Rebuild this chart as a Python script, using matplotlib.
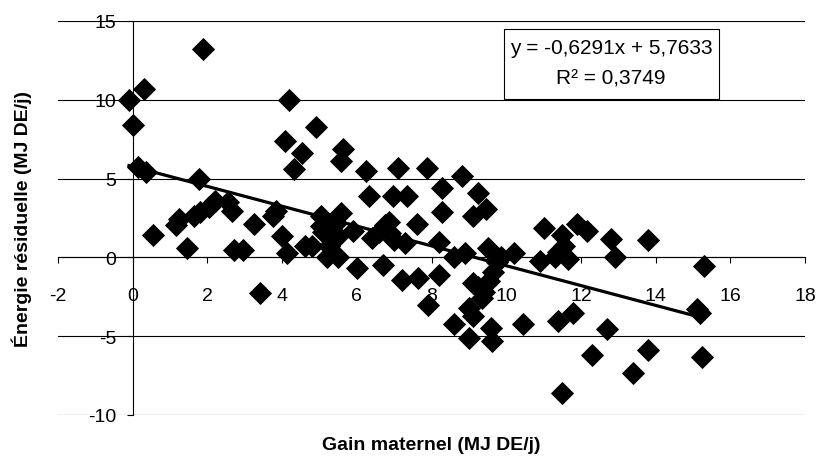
import matplotlib
matplotlib.use("Agg")
import matplotlib.pyplot as plt
from matplotlib.patches import Rectangle

plt.rcParams['font.family'] = ['Liberation Sans', 'DejaVu Sans']
plt.rcParams['axes.unicode_minus'] = False

# gain maternel (MJ DE/j)
gain = [-0.1, 0.3, 0.0, 0.15, 0.35, 0.55, 1.15, 1.25, 1.45, 1.65,
        1.8, 1.88, 1.77, 2.05, 2.2, 2.55, 2.65, 2.7, 2.95, 3.25,
        3.4, 3.75, 3.85, 4.0, 4.18, 4.07, 4.53, 4.32, 4.9, 4.13,
        4.6, 4.8, 5.05, 5.05, 5.1, 5.2, 5.45, 5.5, 5.5, 5.58,
        5.63, 5.58, 5.9, 6.0, 5.25, 6.25, 6.33, 6.7, 6.75, 6.97,
        7.0, 6.6, 6.9, 7.1, 7.35, 7.3, 7.2, 7.6, 7.65, 7.88,
        7.9, 8.2, 8.2, 8.28, 8.28, 8.6, 8.6, 8.82, 8.9, 9.0,
        9.0, 9.1, 9.1, 9.1, 9.25, 9.46, 9.4, 9.5, 9.6, 9.62,
        9.65, 9.75, 9.85, 9.25, 9.35, 9.55, 10.2, 10.45, 10.9, 11.0,
        11.3, 11.4, 11.4, 11.5, 11.55, 11.66, 11.8, 11.9, 11.5, 12.15,
        12.3, 12.7, 12.8, 12.9, 13.4, 13.8, 13.8, 15.1, 15.25, 15.3,
        15.2, 6.4, 6.86]
# énergie résiduelle (MJ DE/j)
energie = [10.0, 10.7, 8.4, 5.75, 5.4, 1.45, 2.05, 2.45, 0.6, 2.6,
           2.85, 13.2, 4.95, 3.2, 3.55, 3.5, 2.95, 0.5, 0.45, 2.1,
           -2.25, 2.6, 2.95, 1.35, 10.0, 7.4, 6.6, 5.6, 8.3, 0.25,
           0.7, 0.7, 2.6, 2.0, 1.6, 0.05, 2.2, 1.35, 0.05, 2.8,
           6.85, 6.1, 1.65, -0.7, 0.7, 5.5, 3.9, -0.5, 2.05, 3.9,
           1.1, 1.6, 1.55, 5.7, 3.9, 0.9, -1.45, 2.15, -1.3, 5.7,
           -3.05, -1.1, 1.0, 4.4, 2.9, -4.25, 0.05, 5.15, 0.3, -5.1,
           -3.2, -3.7, -1.6, 2.6, 4.1, 3.05, -2.2, 0.6, -4.5, -5.3,
           -0.95, -0.3, 0.05, -1.9, -2.6, -1.5, 0.3, -4.25, -0.25, 1.85,
           0.05, 0.35, -4.05, 1.45, 0.75, -0.1, -3.55, 2.1, -8.6, 1.7,
           -6.2, -4.55, 1.15, 0.05, -7.35, 1.1, -5.85, -3.3, -6.35, -0.55,
           -3.55, 1.2, 2.25]

pente = -0.6291
ordonnee = 5.7633
r2 = 0.3749

x_ticks = list(range(-2, 19, 2))
y_ticks = list(range(-10, 16, 5))

W, H = 817, 464
fig = plt.figure(figsize=(W / 100, H / 100), dpi=100)
ax = fig.add_axes([58 / W, 1 - 416 / H, (805 - 58) / W, (416 - 22) / H])

ax.set_xlim(-2, 18)
ax.set_ylim(-10, 15)
ax.set_xticks(x_ticks)
ax.set_yticks(y_ticks)

ax.spines['left'].set_position(('data', 0))
ax.spines['bottom'].set_position(('data', 0))
ax.spines['top'].set_visible(False)
ax.spines['right'].set_visible(False)
for s in ('left', 'bottom'):
    ax.spines[s].set_linewidth(0.8)

ax.yaxis.grid(True, color='black', linewidth=0.8)
ax.set_axisbelow(True)

ax.tick_params(axis='x', direction='out', length=4.5, width=0.8, pad=17, labelsize=14)
ax.tick_params(axis='y', direction='out', length=4, width=0.8, pad=8, labelsize=14)

ax.plot(gain, energie, linestyle='none', marker='D', markersize=11,
        color='black', markeredgewidth=0.6, zorder=3, clip_on=False)

# trend line over the data range
x0, x1 = min(gain), max(gain)
ax.plot([x0, x1], [pente * x0 + ordonnee, pente * x1 + ordonnee],
        color='black', linewidth=2.3, zorder=4)

# equation box
box = Rectangle((504 / W, 1 - 100 / H), 215 / W, 70 / H, transform=fig.transFigure,
                facecolor='white', edgecolor='black', linewidth=0.8, zorder=5, clip_on=False)
ax.add_patch(box)
eq = f"y = {pente:.4f}x + {ordonnee:.4f}".replace('.', ',')
fig.text(611 / W, 1 - 49 / H, eq, ha='center', va='center', fontsize=15, zorder=6)
fig.text(611 / W, 1 - 79 / H, f"R² = {r2:.4f}".replace('.', ','),
         ha='center', va='center', fontsize=15, zorder=6)

fig.text(431 / W, 1 - 446 / H, "Gain maternel (MJ DE/j)", ha='center', va='center',
         fontsize=14, fontweight='bold')
fig.text(22 / W, 1 - 219 / H, "Énergie résiduelle (MJ DE/j)", ha='center', va='center',
         rotation=90, fontsize=14, fontweight='bold')

fig.savefig("out.png", dpi=100)
